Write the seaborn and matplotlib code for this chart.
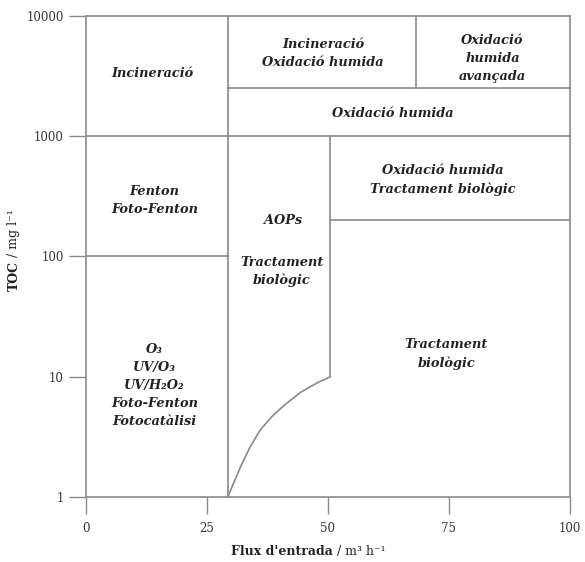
import matplotlib
matplotlib.use("Agg")
import matplotlib.pyplot as plt
import seaborn as sns
import pandas as pd

# ---- data ----
x_ticks = [0, 25, 50, 75, 100]
y_ticks = [1, 10, 100, 1000, 10000]
y_tick_labels = ["1", "10", "100", "1000", "10000"]

# region boundaries (flow m3/h, TOC mg/l)
seg_names = ["v29", "v50", "v68", "h1000", "h100", "h2500", "h200", "curve"]
seg_x = [
    [29.3, 29.3],
    [50.5, 50.5],
    [68.3, 68.3],
    [0, 100],
    [0, 29.3],
    [29.3, 100],
    [50.5, 100],
    [29.3, 30.5, 32, 33.9, 36, 38.5, 41, 44.3, 47.8, 50.5],
]
seg_y = [
    [1, 10000],
    [10, 1000],
    [2500, 10000],
    [1000, 1000],
    [100, 100],
    [2500, 2500],
    [200, 200],
    [1, 1.3, 1.8, 2.6, 3.6, 4.7, 5.8, 7.4, 8.9, 10],
]

region_labels = [
    "Incineració",
    "Incineració\nOxidació humida",
    "Oxidació\nhumida\navançada",
    "Oxidació humida",
    "Fenton\nFoto-Fenton",
    "AOPs",
    "Tractament\nbiològic",
    "Oxidació humida\nTractament biològic",
    "Tractament\nbiològic",
    "O₃\nUV/O₃\nUV/H₂O₂\nFoto-Fenton\nFotocatàlisi",
]
label_x = [13.8, 49.0, 84.0, 63.5, 14.2, 40.8, 40.5, 73.8, 74.5, 14.2]
label_y = [3350, 4900, 4470, 1560, 293, 200, 75, 430, 15.5, 8.4]

x_title = "Flux d'entrada"
x_unit = " / m³ h⁻¹"
y_title = "TOC"
y_unit = " / mg l⁻¹"

# ---- build table ----
rows = []
for name, xs, ys in zip(seg_names, seg_x, seg_y):
    for i, (xv, yv) in enumerate(zip(xs, ys)):
        rows.append({"seg": name, "order": i, "x": xv, "y": yv})
df = pd.DataFrame(rows)

sns.set_style("ticks")
plt.rcParams["font.family"] = ["DejaVu Serif"]

line_col = "#8a8a8a"
fig = plt.figure(figsize=(5.85, 5.62), dpi=100)
ax = fig.add_axes([0.147, 0.1157, 0.827, 0.8558])

sns.lineplot(data=df, x="x", y="y", units="seg", estimator=None, sort=False,
             color=line_col, linewidth=1.2, ax=ax, legend=False)

ax.set_yscale("log")
ax.set_xlim(0, 100)
ax.set_ylim(1, 10000)
ax.set_xticks(x_ticks)
ax.set_xticklabels([str(v) for v in x_ticks])
ax.set_yticks(y_ticks)
ax.set_yticklabels(y_tick_labels)
ax.minorticks_off()
ax.tick_params(axis="both", length=12, width=1.0, color=line_col,
               labelsize=8.5, labelcolor="#333333", pad=4)
ax.tick_params(axis="x", pad=6)
for sp in ax.spines.values():
    sp.set_visible(True)
    sp.set_color(line_col)
    sp.set_linewidth(1.2)

for t, xv, yv in zip(region_labels, label_x, label_y):
    ax.text(xv, yv, t, ha="center", va="center", fontsize=9.3,
            fontweight="bold", fontstyle="italic", color="#222222",
            linespacing=1.5)

ax.set_xlabel("")
ax.set_ylabel("")
# axis titles: bold name + regular unit
ax.annotate(x_title, xy=(0.51, -0.114), xycoords="axes fraction",
            ha="right", va="center", fontsize=9, fontweight="bold",
            color="#222222")
ax.annotate(x_unit, xy=(0.51, -0.114), xycoords="axes fraction",
            ha="left", va="center", fontsize=9, color="#222222")
ax.annotate(y_title, xy=(-0.149, 0.49), xycoords="axes fraction",
            ha="center", va="top", rotation=90, fontsize=9,
            fontweight="bold", color="#222222")
ax.annotate(y_unit, xy=(-0.149, 0.49), xycoords="axes fraction",
            ha="center", va="bottom", rotation=90, fontsize=9,
            color="#222222")

fig.savefig("out.png", dpi=100)
